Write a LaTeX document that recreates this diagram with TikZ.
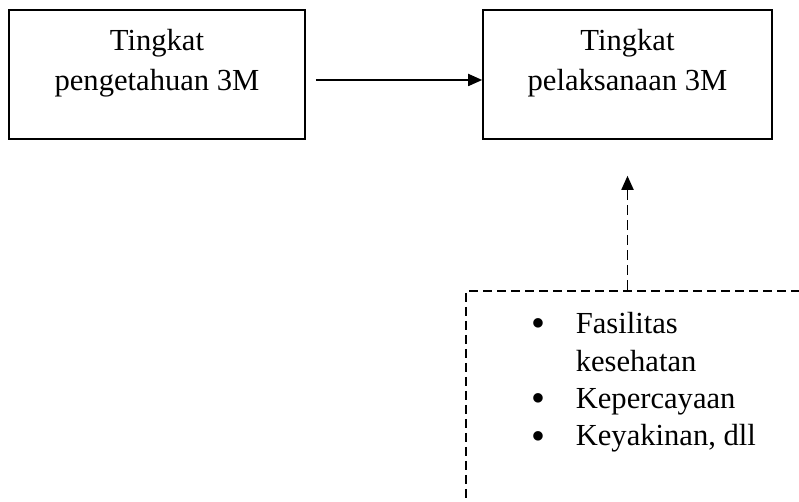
\documentclass[tikz,border=0pt]{standalone}
\usepackage{fontspec}
\setmainfont{Liberation Serif}
\usetikzlibrary{positioning}
\usetikzlibrary{arrows.meta}

\begin{document}
\begin{tikzpicture}
\tikzstyle{box}=[draw, line width=0.8pt, minimum width=148pt, minimum height=64.5pt, inner sep=0pt]
\tikzstyle{txt}=[align=center, inner sep=0pt, font=\fontsize{15.3pt}{20pt}\selectfont]
\tikzstyle{factor}=[draw, line width=0.9pt, dash pattern=on 4.5pt off 2.5pt, inner sep=0pt]
\tikzstyle{list}=[align=left, inner sep=0pt, font=\fontsize{15.3pt}{18.7pt}\selectfont]
\tikzstyle{link}=[line width=0.9pt, -{Triangle[length=7pt,width=6pt]}]
\newcommand{\itemdot}{\makebox[22.2pt][l]{\raisebox{-1.6pt}{\scalebox{1.3}{\textbullet}}}}
\useasboundingbox (0,0) rectangle (399.5pt,251pt);
\clip (0,0) rectangle (399.5pt,251pt);
\node[box] (Tahu) at (78.5pt,213.75pt) {};
\node[txt, below=9.6pt of Tahu.north] (TahuT) {Tingkat\\pengetahuan 3M};
\node[box, minimum width=144.5pt] (Laksana) at (313.75pt,213.75pt) {};
\node[txt, below=9.6pt of Laksana.north] (LaksanaT) {Tingkat\\pelaksanaan 3M};
\node[factor, minimum width=172.5pt, minimum height=109pt, anchor=north west] (Faktor) at (232.5pt,106pt) {};
\node[list, below right=11pt and 33pt of Faktor.north west] (FaktorT) {%
  \itemdot Fasilitas\\
  \hspace*{22.2pt}kesehatan\\
  \itemdot Kepercayaan\\
  \itemdot Keyakinan, dll};
\draw[link] ([xshift=5pt,yshift=-2.75pt]Tahu.east) -- ([yshift=-2.75pt]Laksana.west);
\draw[link, dash pattern=on 5pt off 2.5pt] (Laksana.south |- Faktor.north) -- ([yshift=-18pt]Laksana.south);
\end{tikzpicture}
\end{document}
